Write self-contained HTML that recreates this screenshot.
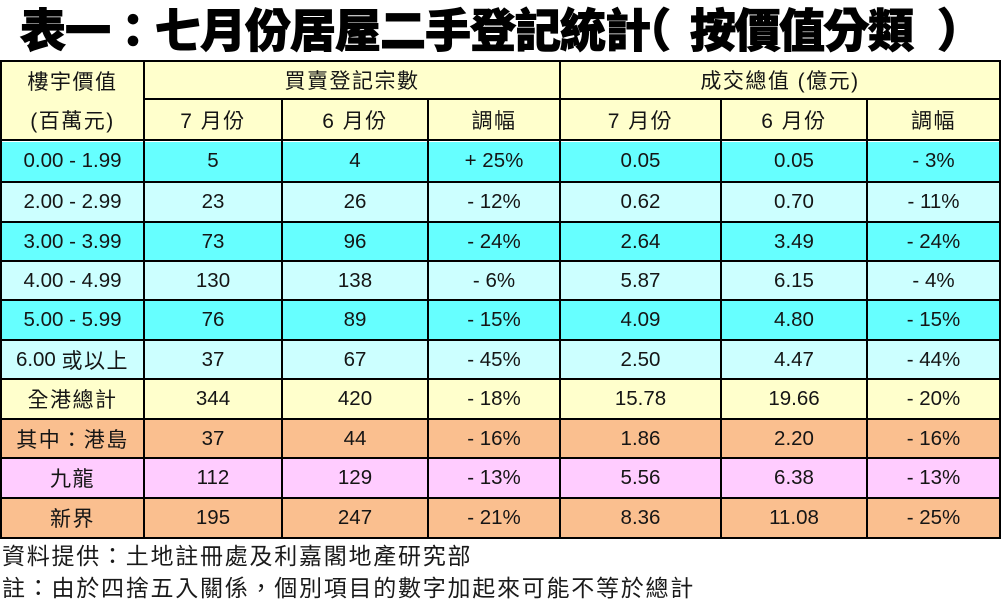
<!DOCTYPE html>
<html><head><meta charset="utf-8">
<style>
html,body{margin:0;padding:0;background:#fff;}
body{width:1006px;height:609px;position:relative;overflow:hidden;font-family:"Liberation Sans","Noto Sans CJK TC",sans-serif;color:#151515;text-spacing-trim:space-all;}
.title{position:absolute;top:5px;font-family:"Noto Sans CJK TC","WenQuanYi Zen Hei",sans-serif;font-size:46px;line-height:46px;font-weight:900;letter-spacing:-1px;white-space:nowrap;color:#000;-webkit-text-stroke:0.9px #000;text-spacing-trim:space-all;}
.row{position:absolute;left:0;width:1001px;}
.c{position:absolute;top:0;height:100%;display:flex;align-items:center;justify-content:center;font-size:20.5px;white-space:nowrap;}
.cj{font-family:"Liberation Sans","Noto Sans CJK TC",sans-serif;font-size:21px;letter-spacing:1.5px;}
.c0{left:2px;width:141px}
.c1{left:145px;width:136px}
.c2{left:283px;width:144px}
.c3{left:429px;width:130px}
.c4{left:561px;width:159px}
.c5{left:722px;width:144px}
.c6{left:868px;width:131px}
.h{position:absolute;background:#000;height:2px;}
.v{position:absolute;background:#000;width:2px;}
.foot{position:absolute;left:2px;font-family:"Noto Sans CJK TC","Liberation Sans",sans-serif;font-size:23px;line-height:23px;letter-spacing:1.75px;white-space:nowrap;color:#1a1a1a;}
.cy{background:#66ffff}
.lc{background:#ccffff}
.ye{background:#ffffcc}
.or{background:#fabf8f}
.pk{background:#ffccff}
</style></head><body>

<div class="title" style="left:20px;">表一：七月份居屋二手登記統計</div>
<div class="title" style="left:625px;">（</div>
<div class="title" style="left:690px;letter-spacing:-1.5px;">按價值分類</div>
<div class="title" style="left:937px;">）</div>

<!-- header backgrounds -->
<div class="row ye" style="top:60px;height:80px;"></div>
<div class="row" style="top:62px;height:36px;">
  <div class="c cj c0" style="height:38px">樓宇價值</div>
  <div class="c cj" style="left:145px;width:414px">買賣登記宗數</div>
  <div class="c cj" style="left:561px;width:438px">成交總值 (億元)</div>
</div>
<div class="row" style="top:100px;height:39px;">
  <div class="c cj c0">(百萬元)</div>
  <div class="c cj c1">7 月份</div>
  <div class="c cj c2">6 月份</div>
  <div class="c cj c3">調幅</div>
  <div class="c cj c4">7 月份</div>
  <div class="c cj c5">6 月份</div>
  <div class="c cj c6">調幅</div>
</div>

<!-- data rows -->
<div class="row cy" style="top:141px;height:40px;">
  <div class="c c0">0.00 - 1.99</div><div class="c c1">5</div><div class="c c2">4</div><div class="c c3">+ 25%</div><div class="c c4">0.05</div><div class="c c5">0.05</div><div class="c c6">- 3%</div>
</div>
<div class="row lc" style="top:183px;height:38px;">
  <div class="c c0">2.00 - 2.99</div><div class="c c1">23</div><div class="c c2">26</div><div class="c c3">- 12%</div><div class="c c4">0.62</div><div class="c c5">0.70</div><div class="c c6">- 11%</div>
</div>
<div class="row cy" style="top:223px;height:37px;">
  <div class="c c0">3.00 - 3.99</div><div class="c c1">73</div><div class="c c2">96</div><div class="c c3">- 24%</div><div class="c c4">2.64</div><div class="c c5">3.49</div><div class="c c6">- 24%</div>
</div>
<div class="row lc" style="top:262px;height:37px;">
  <div class="c c0">4.00 - 4.99</div><div class="c c1">130</div><div class="c c2">138</div><div class="c c3">- 6%</div><div class="c c4">5.87</div><div class="c c5">6.15</div><div class="c c6">- 4%</div>
</div>
<div class="row cy" style="top:301px;height:38px;">
  <div class="c c0">5.00 - 5.99</div><div class="c c1">76</div><div class="c c2">89</div><div class="c c3">- 15%</div><div class="c c4">4.09</div><div class="c c5">4.80</div><div class="c c6">- 15%</div>
</div>
<div class="row lc" style="top:341px;height:37px;">
  <div class="c c0">6.00&nbsp;<span class="cj">或以上</span></div><div class="c c1">37</div><div class="c c2">67</div><div class="c c3">- 45%</div><div class="c c4">2.50</div><div class="c c5">4.47</div><div class="c c6">- 44%</div>
</div>
<div class="row ye" style="top:380px;height:38px;">
  <div class="c cj c0">全港總計</div><div class="c c1">344</div><div class="c c2">420</div><div class="c c3">- 18%</div><div class="c c4">15.78</div><div class="c c5">19.66</div><div class="c c6">- 20%</div>
</div>
<div class="row or" style="top:420px;height:37px;">
  <div class="c cj c0">其中：港島</div><div class="c c1">37</div><div class="c c2">44</div><div class="c c3">- 16%</div><div class="c c4">1.86</div><div class="c c5">2.20</div><div class="c c6">- 16%</div>
</div>
<div class="row pk" style="top:459px;height:38px;">
  <div class="c cj c0">九龍</div><div class="c c1">112</div><div class="c c2">129</div><div class="c c3">- 13%</div><div class="c c4">5.56</div><div class="c c5">6.38</div><div class="c c6">- 13%</div>
</div>
<div class="row or" style="top:499px;height:38px;">
  <div class="c cj c0">新界</div><div class="c c1">195</div><div class="c c2">247</div><div class="c c3">- 21%</div><div class="c c4">8.36</div><div class="c c5">11.08</div><div class="c c6">- 25%</div>
</div>

<!-- horizontal lines -->
<div class="h" style="left:0;width:1001px;top:60px;"></div>
<div class="h" style="left:143px;width:858px;top:98px;"></div>
<div class="h" style="left:0;width:1001px;top:139px;"></div>
<div style="position:absolute;left:0;width:1001px;top:141px;height:1px;background:#fff;"></div>
<div class="h" style="left:0;width:1001px;top:181px;"></div>
<div class="h" style="left:0;width:1001px;top:221px;"></div>
<div class="h" style="left:0;width:1001px;top:260px;"></div>
<div class="h" style="left:0;width:1001px;top:299px;"></div>
<div class="h" style="left:0;width:1001px;top:339px;"></div>
<div class="h" style="left:0;width:1001px;top:378px;"></div>
<div class="h" style="left:0;width:1001px;top:418px;"></div>
<div class="h" style="left:0;width:1001px;top:457px;"></div>
<div class="h" style="left:0;width:1001px;top:497px;"></div>
<div class="h" style="left:0;width:1001px;top:537px;"></div>

<!-- vertical lines -->
<div class="v" style="left:0;top:60px;height:479px;"></div>
<div class="v" style="left:143px;top:60px;height:479px;"></div>
<div class="v" style="left:281px;top:98px;height:441px;"></div>
<div class="v" style="left:427px;top:98px;height:441px;"></div>
<div class="v" style="left:559px;top:60px;height:479px;"></div>
<div class="v" style="left:720px;top:98px;height:441px;"></div>
<div class="v" style="left:866px;top:98px;height:441px;"></div>
<div class="v" style="left:999px;top:60px;height:479px;"></div>

<!-- footnotes -->
<div class="foot" style="top:543px;">資料提供：土地註冊處及利嘉閣地產研究部</div>
<div class="foot" style="top:575px;">註：由於四捨五入關係，個別項目的數字加起來可能不等於總計</div>

</body></html>
